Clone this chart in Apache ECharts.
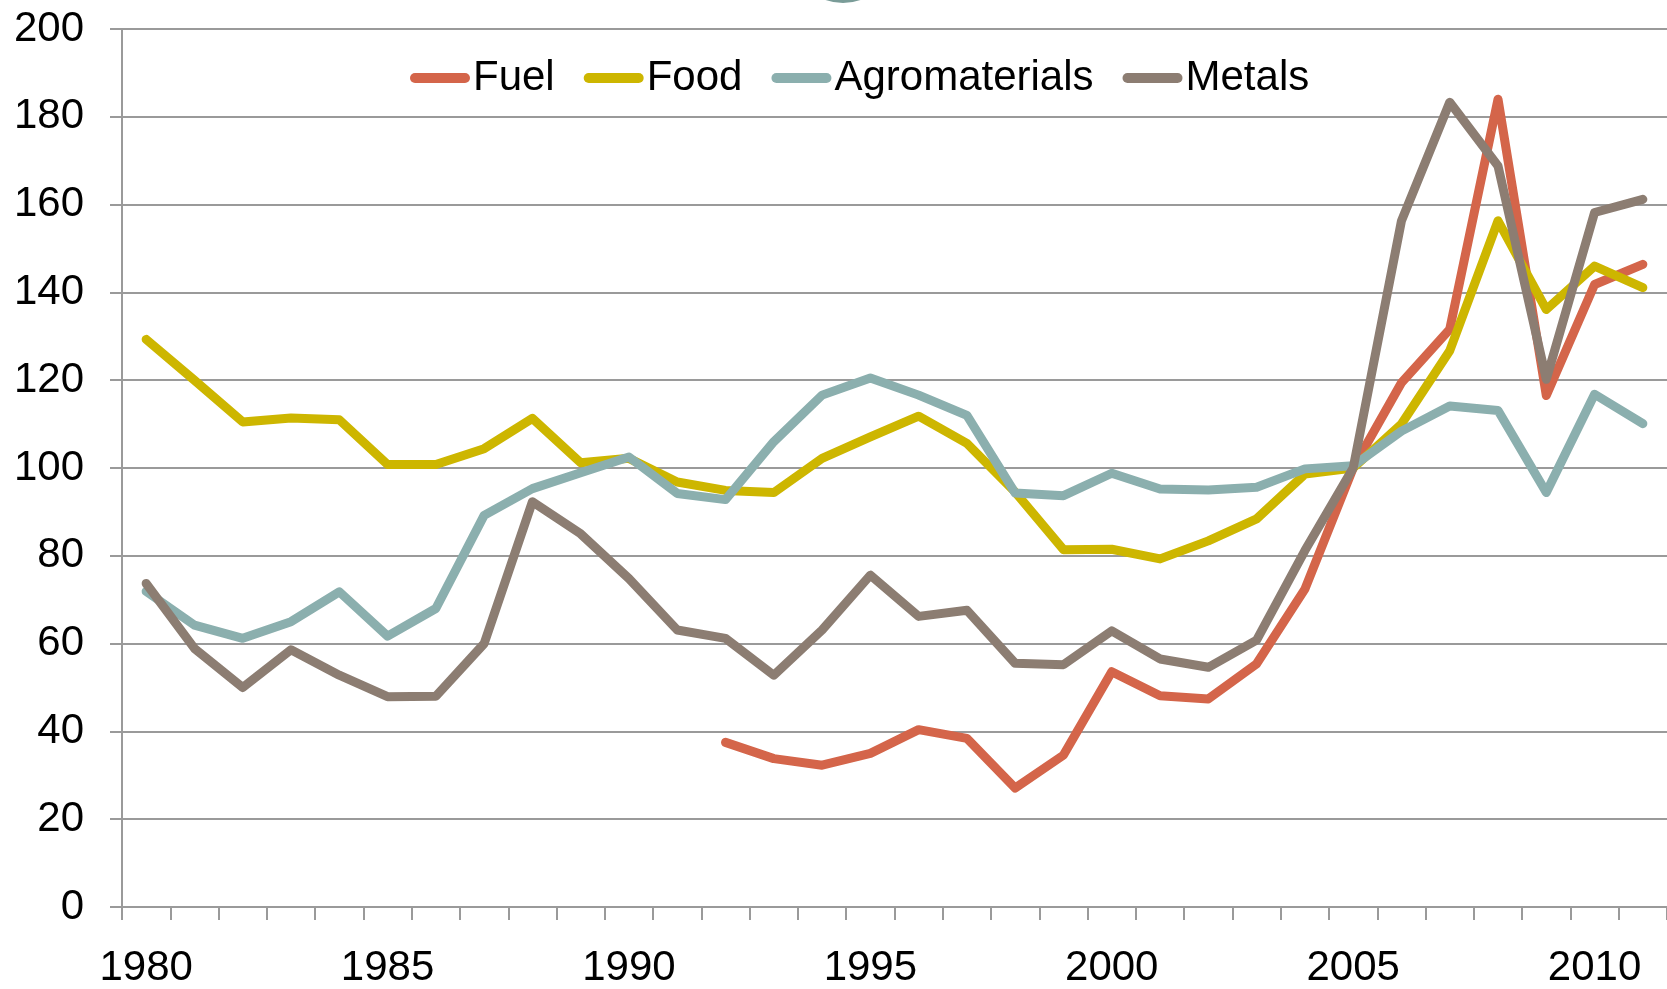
<!DOCTYPE html>
<html>
<head>
<meta charset="utf-8">
<script src="https://cdn.jsdelivr.net/npm/echarts@6/dist/echarts.min.js"></script>
<style>
html,body{margin:0;padding:0;background:#fff;}
#chart{width:1667px;height:989px;}
</style>
</head>
<body>
<div id="chart"></div>
<script>
const years = [1980,1981,1982,1983,1984,1985,1986,1987,1988,1989,1990,1991,1992,1993,1994,1995,1996,1997,1998,1999,2000,2001,2002,2003,2004,2005,2006,2007,2008,2009,2010,2011];
const fuel = [null,null,null,null,null,null,null,null,null,null,null,null,37.5,33.8,32.3,35.0,40.4,38.4,27.1,34.6,53.6,48.1,47.4,55.4,72.4,100,119.4,131.6,184.0,116.5,141.8,146.4];
const food = [129.3,120,110.5,111.4,111.0,100.8,100.8,104.4,111.3,101.2,102.2,96.8,94.9,94.4,102.2,107.1,111.8,105.6,94.5,81.4,81.5,79.3,83.4,88.4,98.6,100,110.0,126.7,156.3,136.1,146.0,141.1];
const agromaterials = [71.9,64.2,61.2,65.0,71.8,61.7,68.0,89.2,95.3,98.9,102.5,94.2,92.8,106.0,116.6,120.5,116.6,112.0,94.3,93.7,98.8,95.2,95.0,95.6,99.8,100.5,108.4,114.1,113.1,94.4,116.8,110.1];
const metals = [73.7,58.9,50.0,58.6,52.8,47.9,48.0,60.0,92.3,85.0,74.8,63.1,61.2,52.8,63.1,75.6,66.2,67.6,55.5,55.2,62.9,56.5,54.6,60.8,81.2,100,156.3,183.3,168.8,120.2,158.2,161.2];
const seriesNames = ['Fuel','Food','Agromaterials','Metals'];
const yTicks = {min:0, max:200, interval:20};

const colors = ['#D4654A','#CDB600','#8BAFAE','#8C7D72'];
const FONT = '"Liberation Sans", Arial, sans-serif';
const chart = echarts.init(document.getElementById('chart'), null, {renderer:'canvas'});
const dataSets = [fuel, food, agromaterials, metals];
const pill = 'path://M5,0 L55,0 A5,5 0 0 1 55,10 L5,10 A5,5 0 0 1 5,0 Z';

chart.setOption({
  animation:false,
  backgroundColor:'#ffffff',
  color: colors,
  graphic:[{
    type:'circle', shape:{cx:843, cy:-49.5, r:52.5},
    style:{fill:'#7A9C98'}, z:0
  }],
  legend:{
    left:405, top:50,
    itemWidth:60, itemHeight:10, itemGap:29,
    icon: pill,
    textStyle:{fontFamily:FONT, fontSize:42, color:'#000', padding:[0,0,0,-2], lineHeight:46},
    data: seriesNames
  },
  grid:{left:122, right:0, top:29, bottom:82, containLabel:false},
  xAxis:{
    type:'category', data: years.map(String), boundaryGap:true,
    axisLine:{show:true, lineStyle:{color:'#9A9A9A', width:2}},
    axisTick:{show:true, interval:0, length:13, lineStyle:{color:'#9A9A9A', width:2}},
    axisLabel:{interval:function(i){return i%5===0;}, margin:40, fontFamily:FONT, fontSize:42, color:'#000'},
    splitLine:{show:false}
  },
  yAxis:{
    type:'value', min:yTicks.min, max:yTicks.max, interval:yTicks.interval,
    axisLine:{show:true, lineStyle:{color:'#9A9A9A', width:2}},
    axisTick:{show:true, length:12, lineStyle:{color:'#9A9A9A', width:2}},
    axisLabel:{margin:38, fontFamily:FONT, fontSize:42, color:'#000'},
    splitLine:{show:true, lineStyle:{color:'#9A9A9A', width:2}}
  },
  series: seriesNames.map((n,i)=>({
    name:n, type:'line', data:dataSets[i], symbol:'none', showSymbol:false,
    connectNulls:false,
    lineStyle:{width:9, color:colors[i], cap:'round', join:'round'},
    itemStyle:{color:colors[i]},
    emphasis:{disabled:true}
  }))
});
</script>
</body>
</html>
